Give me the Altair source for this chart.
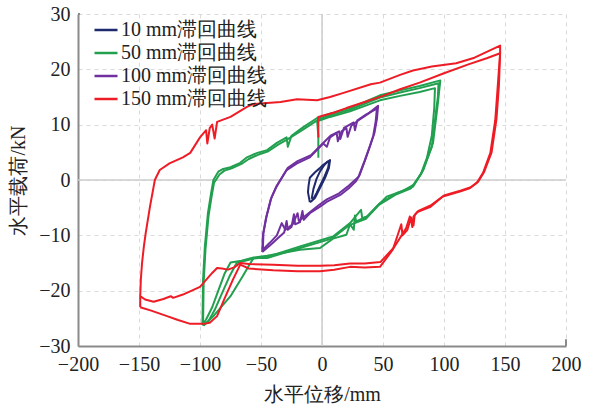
import altair as alt
import pandas as pd

# ---------------- data ----------------
series_names = ["10 mm滞回曲线", "50 mm滞回曲线", "100 mm滞回曲线", "150 mm滞回曲线"]
series_colors = ["#1f2a6e", "#22a04f", "#7030a0", "#ee1c25"]

# 10 mm loop (navy)
n1_x = [-10, -11.5, -11, -10, -5.7, -2, 0.8, 4, 6.6, 6.2, 5.7, 2.5, -1.6, -5.7, -8.5, -10]
n1_y = [-4, -2.2, -1, 0.4, 1.4, 2.1, 2.7, 3.2, 3.6, 3, 2.2, 0.4, -1.4, -3.2, -3.8, -4]
n2_x = [-8.5, -7, -4.5, -1.5, 1.5, 4.5, 6, 5, 2, -1.5, -4.5, -7, -8.5]
n2_y = [-3.4, -1.6, 0.2, 1.6, 2.6, 3.3, 3.4, 2.2, 0.6, -1, -2.4, -3.4, -3.4]

# 50 mm loop (green)
g1_x = [-3, -3, -4, 6.6, 23, 47.5, 64, 80, 92.6,
        92, 90, 86, 81, 75, 66, 61, 53, 45, 37, 28, 27, 26, 23, 20, 9, -1.6, -18, -45, -56, -66, -75,
        -80, -85, -90, -95, -98]
g1_y = [4, 8, 10.6, 11.4, 12.4, 14.4, 15.2, 15.9, 16.6,
        13, 8, 4, 1, -0.9, -2, -2.4, -3, -4.8, -6.6, -7.5, -6.4, -9, -8, -9.9, -10.6, -12.3, -12.6, -13.7, -14, -14.6, -14.9,
        -17, -20, -23, -25.2, -26.2]
g2_x = [-98, -97.5, -96, -93.5, -91, -89, -85, -81, -75, -67, -61.5, -53, -45, -37, -29, -28, -25, -15.6, -4, 6.6, 23, 47.5, 64, 80, 97,
        96, 95, 91, 83, 74.6, 61, 47.5, 37, 33, 32, 23, 9, -18, -45, -56, -70,
        -76, -82, -88, -93, -97.5]
g2_y = [-26.2, -18, -12, -6, -2.5, 0, 1.5, 2, 2.3, 3.1, 4.1, 4.9, 5.4, 6.7, 7.7, 6, 8, 9.5, 11.2, 12.0, 13, 15.3, 16.2, 17, 18,
        16, 13.9, 6.7, 1.8, -1.2, -2.4, -4.2, -6.6, -6.9, -5.4, -7.8, -10.2, -12, -13.9, -14.2, -15,
        -17.5, -20.5, -23.5, -25.5, -26.3]
g3_x = [-97.5, -97, -95.5, -93, -90.5, -88.5, -84, -80, -74, -66, -60, -52, -44, -36, -28, -15, -3, 7, 23, 47.5, 64, 80, 95.5,
        95, 93.5, 90, 82, 73, 60, 46, 36, 22, 8, -18, -45, -56,
        -60, -65, -75, -89, -97]
g3_y = [-26.3, -18.5, -12.5, -6.5, -3, -0.5, 1, 1.7, 2.1, 2.9, 3.8, 4.6, 5.2, 6.4, 7.4, 9.2, 10.9, 11.7, 12.7, 14.9, 15.8, 16.6, 17.5,
        15, 12.5, 6, 1.4, -1.5, -2.7, -4.6, -7, -8.2, -10.6, -12.3, -14.1, -14.1,
        -15.5, -17.4, -21, -24.6, -26.3]

# 100 mm loop (purple)
p1_x = [-49, -48.5, -46, -42, -38, -34, -29, -20.5, -10, 1, 4, 6.6, 12, 13, 16, 20, 21, 24, 30, 38, 46,
        45, 43, 40, 36, 31, 28, 22, 15, 5, -1.6, -10, -15, -16, -18, -22, -23, -25, -28, -29, -31, -36, -42, -49]
p1_y = [-13, -10, -7, -3.5, -1.5, 0, 1.8, 3, 4.1, 6.6, 6, 7.7, 8.5, 7, 8.8, 9.4, 7.8, 9.8, 10.8, 12, 13.4,
        11, 8.5, 6.5, 4, 1, -0.2, -1.5, -2.7, -3.8, -4.8, -6, -7.2, -5.6, -7.6, -8, -6.2, -8.5, -9, -7.4, -9.5, -10.5, -11.7, -13]
p2_x = [-48.5, -48, -45.5, -41.5, -37, -33, -28, -20, -9, 2, 7, 14, 15, 18, 26, 27, 29, 36, 45,
        44, 42, 39, 35, 30, 21, 14, 4, -3, -11, -19, -20, -24, -30, -33, -37, -43, -48.5]
p2_y = [-12.6, -9.6, -6.6, -3.2, -1, 0.4, 2.2, 3.4, 4.5, 6.9, 8, 8.8, 7.4, 9.4, 10.4, 9, 10.8, 11.8, 12.9,
        10.6, 8, 6, 3.5, 0.6, -1.2, -2.4, -3.5, -4.6, -6, -7.4, -6, -8, -9, -7.8, -10, -11.4, -12.6]

# 150 mm loop (red)
r1_x = [-3, -3, 10, 20, 35, 50, 64, 80, 100, 120, 135, 146,
        146, 144, 142, 138, 132, 127, 121, 113, 99, 88.5, 78, 75, 74, 73, 70, 66, 65, 58, 47.5, 35, 23, 10, -1.6,
        -20, -40, -60, -67, -73, -80, -86, -92, -97, -108, -118, -127, -140, -149]
r1_y = [7.7, 11.4, 12.2, 13, 14.1, 15.2, 16.4, 17.6, 19.3, 20.9, 22, 22.9,
        22.9, 16.8, 10.8, 4.9, 1.3, -0.5, -1.5, -2.1, -3, -4.9, -5.8, -6.6, -8.5, -6.8, -9, -10, -8, -12.6, -15.7, -15.8, -15.7, -16.2, -16.5,
        -16.5, -16.3, -16, -15.3, -18, -21.5, -24.6, -25.8, -26, -26, -25.3, -24.6, -23.6, -23]
r2_x = [-149, -149, -148.5, -147.5, -146, -144.5, -141, -137, -133, -125, -114, -108, -100, -95, -94, -92, -90, -88, -86,
        -75, -61.5, -56.5, -34, -20.5, -4, 6.6, 17, 40, 47.5, 64, 74.6, 90, 110, 125, 146,
        146, 145, 143, 139, 133, 128, 122, 114, 100, 89, 79, 76, 75, 72, 69, 59, 48, 35, 23, 10, -1.6,
        -20, -40, -60, -67, -72, -77, -82, -86, -90, -100, -114, -122, -124, -130, -138, -145, -149]
r2_y = [-23, -21, -18, -15, -12, -9.6, -4.8, 0, 1.8, 3, 4.1, 4.9, 7.7, 9, 6.6, 9.4, 10, 7.5, 10.5,
        11.4, 13.2, 13.7, 14.1, 14.6, 14.4, 15, 15.7, 17.3, 17.6, 19, 19.8, 20.5, 21.1, 22.1, 24.3,
        22.9, 17, 11, 5, 1.5, -0.3, -1.3, -1.9, -2.8, -4.6, -5.6, -6.3, -8.2, -6.6, -8.7, -12.2, -14.8, -15.1, -15.1, -15.4, -15.5,
        -15.5, -15.3, -15.2, -15, -15.8, -16.2, -16, -15.9, -16.8, -19.3, -20.7, -21.3, -21, -21.5, -22, -21.6, -21]

traces = [
    ("n1", series_names[0], n1_x, n1_y),
    ("n2", series_names[0], n2_x, n2_y),
    ("g1", series_names[1], g1_x, g1_y),
    ("g2", series_names[1], g2_x, g2_y),
    ("g3", series_names[1], g3_x, g3_y),
    ("p1", series_names[2], p1_x, p1_y),
    ("p2", series_names[2], p2_x, p2_y),
    ("r1", series_names[3], r1_x, r1_y),
    ("r2", series_names[3], r2_x, r2_y),
]

rows = []
for tid, name, xs, ys in traces:
    for i, (xv, yv) in enumerate(zip(xs, ys)):
        rows.append({"x": xv, "y": yv, "series": name, "trace": tid, "i": i})
df = pd.DataFrame(rows)

x_ticks = [-200, -150, -100, -50, 0, 50, 100, 150, 200]
y_ticks = [-30, -20, -10, 0, 10, 20, 30]

FONT = "Liberation Serif"
LBL = "replace(format(datum.value, 'd'), '-', '\u2212')"

x_axis = alt.Axis(values=x_ticks, title="水平位移/mm", labelExpr=LBL, labelFont=FONT, titleFont=FONT)
y_axis = alt.Axis(values=y_ticks, title="水平载荷/kN", labelExpr=LBL, labelFont=FONT, titleFont=FONT)

x_scale = alt.Scale(domain=[-200, 200], nice=False, zero=False)
y_scale = alt.Scale(domain=[-30, 30], nice=False, zero=False)

zero_v = alt.Chart(pd.DataFrame({"x": [0]})).mark_rule(color="#cccccc", strokeWidth=1.5).encode(
    x=alt.X("x:Q", scale=x_scale, axis=x_axis))
zero_h = alt.Chart(pd.DataFrame({"y": [0]})).mark_rule(color="#cccccc", strokeWidth=1.5).encode(
    y=alt.Y("y:Q", scale=y_scale, axis=y_axis))

end_ticks = pd.DataFrame({"x": [-200, 200], "x2": [-198.3, 200], "y": [30, -30], "y2": [30, -28.8]})
ticks = alt.Chart(end_ticks).mark_rule(color="#8a8a8a", strokeWidth=2).encode(
    x=alt.X("x:Q", scale=x_scale, axis=x_axis), x2="x2:Q",
    y=alt.Y("y:Q", scale=y_scale, axis=y_axis), y2="y2:Q")

lines = alt.Chart(df).mark_line(strokeWidth=2, strokeJoin="round").encode(
    x=alt.X("x:Q", scale=x_scale, axis=x_axis),
    y=alt.Y("y:Q", scale=y_scale, axis=y_axis),
    color=alt.Color("series:N", sort=series_names,
                    scale=alt.Scale(domain=series_names, range=series_colors),
                    legend=alt.Legend(title=None, orient="none", legendX=15, legendY=3,
                                      symbolType="stroke", symbolSize=529, symbolStrokeWidth=2.5,
                                      labelFont=FONT, labelFontSize=20, labelColor="#222",
                                      labelOffset=2, rowPadding=0, padding=0, labelLimit=300)),
    detail="trace:N",
    order="i:Q",
)

chart = alt.layer(zero_v, zero_h, lines, ticks).properties(
    width=488, height=332,
    padding={"left": 78, "top": 14, "right": 30, "bottom": 66},
    autosize=alt.AutoSizeParams(type="none"),
).configure(
    background="white", font=FONT
).configure_view(
    stroke=None
).configure_axis(
    grid=True, gridDash=[4, 4], gridColor="#dadada",
    domainColor="#8a8a8a", domainWidth=2, ticks=False, labelPadding=8,
    labelFont=FONT, labelFontSize=20, labelColor="#222",
    titleFont=FONT, titleFontSize=20, titleFontWeight="normal", titleColor="#222",
    titlePadding=10, labelFlush=False,
).configure_legend(
    labelFont=FONT, labelFontSize=20, labelColor="#222"
)

chart.save("out.html", embed_options={"renderer": "svg", "actions": False})
